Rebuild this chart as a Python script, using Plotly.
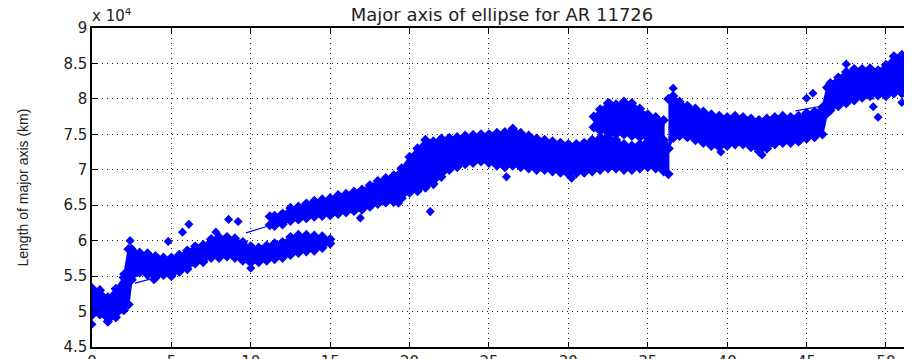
import plotly.graph_objects as go

# ---------------- data (km) ----------------
# hours since start of observation
band1_t  = [0.0, 0.5, 1.0, 1.5, 2.0, 2.3, 2.5, 3.0, 3.5, 4.0, 4.5, 5.0, 5.5, 6.0, 6.5, 7.0, 7.5, 8.0,
            8.5, 9.0, 9.5, 10.0, 10.5, 11.0, 11.5, 12.0, 12.5, 13.0, 13.5, 14.0, 14.5, 15.0]
band1_lo = [49500, 49600, 48600, 49200, 50200, 51000, 54500, 55500, 55200, 54800, 55200, 55000, 55600,
            56000, 56800, 57000, 57600, 57600, 57800, 57600, 57200, 56900, 57000, 57200, 57400, 57600,
            58000, 58300, 58500, 58600, 59000, 59600]
band1_hi = [53300, 53000, 52000, 53200, 54800, 58800, 58800, 58300, 58200, 57800, 57600, 57600, 58000,
            58600, 59200, 59400, 60200, 60500, 60500, 60300, 59800, 59200, 59000, 59300, 59600, 59800,
            60500, 60800, 60800, 60700, 60600, 60200]

band2_t  = [11.2, 11.5, 12.0, 12.5, 13.0, 13.5, 14.0, 14.5, 15.0, 15.5, 16.0, 16.5, 17.0, 17.5, 18.0,
            18.5, 19.0, 19.5, 20.0, 20.5, 21.0, 21.5, 22.0, 22.5, 23.0, 23.5, 24.0, 24.5, 25.0, 25.5,
            26.0, 26.5, 27.0, 27.5, 28.0, 28.5, 29.0, 29.5, 30.0, 30.5, 31.0, 31.5, 32.0, 32.5, 33.0,
            33.5, 34.0, 34.5, 35.0, 35.5, 36.0, 36.3]
band2_lo = [62200, 62100, 62300, 62800, 63000, 63200, 63400, 63500, 63600, 63800, 64000, 64200, 64400,
            64800, 65200, 65400, 65500, 66000, 66800, 67000, 67500, 68000, 69000, 70000, 70400, 70800,
            71000, 71200, 71000, 70600, 70400, 70600, 70400, 70200, 70000, 70000, 69800, 69600, 69400,
            69500, 69600, 69800, 70000, 70200, 70200, 70000, 70000, 70200, 70400, 70200, 69800, 69400]
band2_hi = [63400, 63500, 63800, 64600, 64800, 65200, 65600, 65800, 66000, 66400, 66600, 66900, 67200,
            67800, 68400, 68800, 69200, 70200, 71800, 73000, 74200, 74000, 74400, 74500, 74600, 74800,
            74900, 75000, 75000, 75200, 75300, 75800, 75200, 74800, 74400, 74200, 74000, 73800, 73600,
            73600, 73800, 74200, 74500, 74800, 74200, 73600, 73400, 73600, 74000, 74200, 73800, 73000]

band3_t  = [31.6, 32.0, 32.5, 33.0, 33.5, 34.0, 34.5, 35.0, 35.5, 36.0]
band3_lo = [76000, 75500, 75200, 75000, 75000, 74800, 74600, 74500, 74400, 74200]
band3_hi = [77500, 78500, 79400, 79200, 79600, 79400, 78600, 77800, 77400, 77000]

band4_t  = [36.3, 36.6, 37.0, 37.5, 38.0, 38.5, 39.0, 39.5, 40.0, 40.5, 41.0, 41.5, 42.0, 42.5, 43.0,
            43.5, 44.0, 44.5, 45.0, 45.5, 46.0, 46.3, 46.5, 47.0, 47.5, 48.0, 48.5, 49.0, 49.5, 50.0,
            50.5, 51.0, 51.4]
band4_lo = [73000, 74500, 74800, 74600, 74200, 73800, 73400, 73200, 73400, 73600, 73600, 73200, 72600,
            73000, 73600, 73800, 73800, 74000, 74400, 74600, 75000, 78000, 78400, 79000, 79400, 79800,
            80200, 80400, 80500, 80400, 80800, 80800, 81000]
band4_hi = [80000, 80400, 79600, 79000, 78600, 78200, 77800, 77600, 77400, 77600, 77400, 77200, 77000,
            77200, 77400, 77600, 77400, 77600, 78000, 78200, 78800, 81600, 82200, 83000, 83800, 84200,
            84200, 84300, 84000, 84800, 86000, 86200, 85600]

# isolated points away from the main band
out_t = [0.0, 2.0, 2.4, 3.9, 4.8, 5.7, 6.1, 7.8, 8.6, 9.2, 10.0, 16.9, 19.3, 21.3, 26.1, 30.2,
         31.8, 32.6, 36.6, 39.6, 42.2, 45.0, 45.4, 46.2, 47.5, 49.2, 49.5, 51.0]
out_y = [48200, 55300, 60000, 54500, 59900, 61200, 62300, 61200, 63000, 62700, 56100, 63200, 65300,
         64100, 69000, 68800, 77000, 79400, 81500, 72500, 72100, 80100, 80800, 78400, 84900, 78900,
         77400, 79500]

# thin connecting segments between sparse points
seg_t = [2.7, 4.2, None, 9.7, 11.0, None, 44.3, 46.0, None, 47.9, 49.3]
seg_y = [54000, 54900, None, 61100, 62000, None, 78300, 79000, None, 80200, 80000]

x_ticks = [0, 5, 10, 15, 20, 25, 30, 35, 40, 45, 50]
y_ticks = [45000, 50000, 55000, 60000, 65000, 70000, 75000, 80000, 85000, 90000]
y_tick_text = ["4.5", "5", "5.5", "6", "6.5", "7", "7.5", "8", "8.5", "9"]

title_text = "Major axis of ellipse for AR 11726"
y_label = "Length of major axis (km)"

BLUE = "rgb(0,0,255)"

fig = go.Figure()

bands = [(band1_t, band1_lo, band1_hi), (band2_t, band2_lo, band2_hi),
         (band3_t, band3_lo, band3_hi), (band4_t, band4_lo, band4_hi)]
for t, lo, hi in bands:
    fig.add_trace(go.Scatter(
        x=t + t[::-1], y=hi + lo[::-1], mode="lines", fill="toself",
        fillcolor=BLUE, line=dict(color=BLUE, width=2), hoverinfo="skip", showlegend=False))
    fig.add_trace(go.Scatter(
        x=t + t, y=hi + lo, mode="markers",
        marker=dict(symbol="diamond", size=8, color=BLUE, line=dict(width=0)),
        showlegend=False))

fig.add_trace(go.Scatter(x=out_t, y=out_y, mode="markers",
                         marker=dict(symbol="diamond", size=7, color=BLUE, line=dict(width=0)),
                         showlegend=False))
fig.add_trace(go.Scatter(x=seg_t, y=seg_y, mode="lines", line=dict(color=BLUE, width=1.2),
                         connectgaps=False, showlegend=False))

axis_font = dict(family="DejaVu Sans, Arial, sans-serif", size=15, color="#222")
grid = dict(showgrid=True, gridcolor="#222", griddash="1px,4px", gridwidth=1)

# The page body adds an 8 px offset, so the figure is 904x351 and fills the window.
fig.update_layout(
    width=904, height=351,
    margin=dict(l=84, r=0, t=20, b=12),
    paper_bgcolor="white", plot_bgcolor="white",
    title=dict(text=title_text, x=0.5, xref="paper", xanchor="center",
               y=1 - 7 / 351, yanchor="middle", yref="container",
               font=dict(family="DejaVu Sans, Arial, sans-serif", size=18, color="#222")),
    xaxis=dict(range=[0, 51.64], tickvals=x_ticks, ticks="inside", ticklen=5, tickwidth=1.2,
               tickcolor="black", showline=True, linecolor="black", linewidth=1.5, mirror="ticks",
               zeroline=False, tickfont=axis_font, automargin=False, **grid),
    yaxis=dict(range=[45000, 90000], tickvals=y_ticks, ticktext=y_tick_text, ticks="inside",
               ticklen=5, tickwidth=1.2, tickcolor="black", showline=True, linecolor="black",
               linewidth=1.5, mirror="ticks", zeroline=False, tickfont=axis_font,
               automargin=False, **grid),
    annotations=[
        dict(text="x 10<sup>4</sup>", xref="paper", yref="paper", x=0.0, y=1.0,
             xanchor="left", yanchor="bottom", showarrow=False, yshift=1, xshift=-2,
             font=dict(family="DejaVu Sans, Arial, sans-serif", size=15, color="#222")),
        dict(text=y_label, xref="paper", yref="paper", x=(22 - 92) / 820, y=0.5,
             xanchor="center", yanchor="middle", textangle=-90, showarrow=False,
             font=dict(family="Liberation Sans Narrow, Arial, sans-serif", size=14, color="#222")),
    ],
)

fig.write_html("out.html")
